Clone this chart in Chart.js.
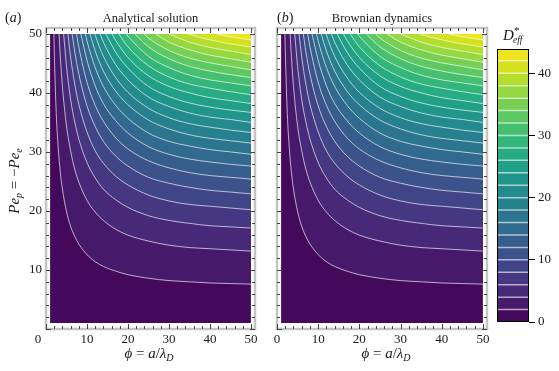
<!DOCTYPE html>
<html>
<head>
<meta charset="utf-8">
<script src="https://cdn.jsdelivr.net/npm/chart.js@4.4.0/dist/chart.umd.min.js"></script>
<style>
  body { margin: 0; background: #fff; }
  #wrap { position: relative; width: 559px; height: 371px; }
  canvas { position: absolute; top: 0; }
</style>
</head>
<body>
<div id="wrap">
  <canvas id="panelA" width="270" height="371" style="left:0"></canvas>
  <canvas id="panelB" width="235" height="371" style="left:262px"></canvas>
  <canvas id="colorbar" width="69" height="371" style="left:490px"></canvas>
</div>
<script>
// tick values
var phiTicks = [0, 10, 20, 30, 40, 50];
var peTicks = [0, 10, 20, 30, 40, 50];
var barTicks = [0, 10, 20, 30, 40];

// contour levels of D*_eff and top of the colour bar
var levels = [2, 4, 6, 8, 10, 12, 14, 16, 18, 20, 22, 24, 26, 28, 30, 32, 34, 36, 38, 40, 42];
var dMax = 43.9;

// one colour per band: 0-2, 2-4, ... 42-44
var bandColors = ['#45095c', '#47196b', '#482878', '#453781', '#404587', '#3b528b',
                  '#365e8d', '#306a8e', '#2b758e', '#27808e', '#238b8d', '#20968b',
                  '#1fa087', '#26ab82', '#33b67a', '#46c06f', '#5ec962', '#78d052',
                  '#95d840', '#b4dd2c', '#d3e21d', '#efe51f'];

// contour lines, [phi, Pe]
var c2  = [[1.92,50],[2,47.4],[2.5,36.5],[3,30.5],[3.5,26.5],[4,23.7],[5,19.9],[6,17.4],[7,15.7],[8,14.4],[10,12.6],[12,11.4],[14,10.6],[17,9.8],[20,9.2],[25,8.6],[30,8.2],[35,8.0],[40,7.8],[45,7.7],[50,7.6]];
var c4  = [[3.18,50],[3.5,46.0],[4,41.1],[5,34.4],[6,30.2],[7,27.1],[8,24.9],[10,21.8],[12,19.8],[14,18.4],[17,16.9],[20,15.9],[25,14.9],[30,14.2],[35,13.8],[40,13.6],[45,13.4],[50,13.2]];
var c6  = [[4.3,50],[5,44.5],[6,38.9],[7,35.1],[8,32.2],[10,28.2],[12,25.6],[14,23.7],[17,21.9],[20,20.6],[25,19.2],[30,18.4],[35,17.9],[40,17.5],[45,17.3],[50,17.1]];
var c8  = [[5.35,50],[6,46.1],[7,41.5],[8,38.1],[10,33.4],[12,30.2],[14,28.1],[17,25.9],[20,24.4],[25,22.7],[30,21.7],[35,21.1],[40,20.8],[45,20.5],[50,20.2]];
var c10 = [[6.39,50],[7,47.0],[8,43.2],[10,37.8],[12,34.3],[14,31.8],[17,29.3],[20,27.6],[25,25.7],[30,24.7],[35,24.0],[40,23.5],[45,23.2],[50,22.9]];
var c12 = [[7.44,50],[8,47.8],[10,41.8],[12,37.9],[14,35.2],[17,32.4],[20,30.5],[25,28.5],[30,27.3],[35,26.5],[40,26.0],[45,25.7],[50,25.4]];
var c14 = [[8.51,50],[10,45.5],[12,41.2],[14,38.2],[17,35.3],[20,33.2],[25,30.9],[30,29.6],[35,28.8],[40,28.3],[45,27.9],[50,27.6]];
var c16 = [[9.6,50],[10,48.8],[12,44.3],[14,41.1],[17,37.9],[20,35.7],[25,33.2],[30,31.8],[35,31.0],[40,30.4],[45,30.0],[50,29.6]];
var c18 = [[10.74,50],[12,47.1],[14,43.7],[17,40.3],[20,38.0],[25,35.4],[30,33.9],[35,32.9],[40,32.3],[45,31.9],[50,31.5]];
var c20 = [[11.91,50],[12,49.8],[14,46.2],[17,42.6],[20,40.1],[25,37.4],[30,35.8],[35,34.8],[40,34.2],[45,33.7],[50,33.3]];
var c22 = [[13.2,50],[14,48.6],[17,44.8],[20,42.2],[25,39.3],[30,37.7],[35,36.6],[40,35.9],[45,35.5],[50,35.0]];
var c24 = [[14.59,50],[17,46.9],[20,44.2],[25,41.1],[30,39.4],[35,38.3],[40,37.6],[45,37.1],[50,36.7]];
var c26 = [[16.11,50],[17,48.9],[20,46.0],[25,42.9],[30,41.1],[35,40.0],[40,39.2],[45,38.7],[50,38.2]];
var c28 = [[17.75,50],[20,47.8],[25,44.6],[30,42.7],[35,41.5],[40,40.8],[45,40.2],[50,39.7]];
var c30 = [[19.55,50],[20,49.6],[25,46.2],[30,44.3],[35,43.0],[40,42.2],[45,41.7],[50,41.2]];
var c32 = [[21.67,50],[25,47.8],[30,45.8],[35,44.5],[40,43.7],[45,43.1],[50,42.6]];
var c34 = [[23.9,50],[25,49.3],[30,47.2],[35,45.9],[40,45.1],[45,44.5],[50,43.9]];
var c36 = [[26.67,50],[30,48.6],[35,47.3],[40,46.4],[45,45.8],[50,45.2]];
var c38 = [[29.96,50],[35,48.6],[40,47.7],[45,47.1],[50,46.5]];
var c40 = [[34.63,50],[35,49.9],[40,49.0],[45,48.3],[50,47.8]];
var c42 = [[41.56,50],[45,49.5],[50,49.0]];

var analytical = [c2, c4, c6, c8, c10, c12, c14, c16, c18, c20, c22, c24, c26, c28, c30, c32, c34, c36, c38, c40, c42];
var brownian = analytical;

var serif = "'Liberation Serif', 'DejaVu Serif', serif";
function up(s) { return s + 'px ' + serif; }
function it(s) { return 'italic ' + s + 'px ' + serif; }

function drawRuns(ctx, runs, x, y, align) {
  var w = 0;
  runs.forEach(function (r) { ctx.font = r.f; r.w = ctx.measureText(r.t).width; w += r.w; });
  var cx = align === 'center' ? x - w / 2 : x;
  runs.forEach(function (r) { ctx.font = r.f; ctx.fillText(r.t, cx, y + (r.dy || 0)); cx += r.w; });
}

function contourDatasets(lines) {
  var sets = [{
    data: [{x: 1, y: 1}, {x: 50, y: 1}],
    fill: {value: 50},
    backgroundColor: bandColors[0],
    borderWidth: 0,
    order: 100
  }];
  lines.forEach(function (pts, i) {
    sets.push({
      data: pts.map(function (p) { return {x: p[0], y: p[1]}; }),
      fill: {value: 50},
      backgroundColor: bandColors[i + 1],
      borderColor: 'rgba(255,255,255,0.65)',
      borderWidth: 1,
      cubicInterpolationMode: 'monotone',
      order: 99 - i
    });
  });
  return sets;
}

function framePlugin(drawTexts) {
  return {
    id: 'frame',
    afterDraw: function (chart) {
      var ctx = chart.ctx, a = chart.chartArea, x = chart.scales.x, y = chart.scales.y;
      ctx.save();
      ctx.strokeStyle = '#c4c4c4';
      ctx.lineWidth = 2.5;
      ctx.strokeRect(a.left, a.top, a.right - a.left, a.bottom - a.top);
      ctx.strokeStyle = '#444';
      ctx.lineWidth = 1;
      ctx.beginPath();
      for (var v = 0; v <= 50; v += 2) {
        var len = v % 10 === 0 ? 5 : 3;
        var px = Math.round(x.getPixelForValue(v)) + 0.5;
        ctx.moveTo(px, a.bottom); ctx.lineTo(px, a.bottom - len);
        ctx.moveTo(px, a.top); ctx.lineTo(px, a.top + len);
        var py = Math.round(y.getPixelForValue(v)) + 0.5;
        ctx.moveTo(a.left, py); ctx.lineTo(a.left + len, py);
        ctx.moveTo(a.right, py); ctx.lineTo(a.right - len, py);
      }
      ctx.stroke();
      ctx.fillStyle = '#1a1a1a';
      ctx.textBaseline = 'alphabetic';
      drawTexts(ctx, chart);
      ctx.restore();
    }
  };
}

function panel(id, lines, cfg) {
  return new Chart(document.getElementById(id), {
    type: 'line',
    data: {datasets: contourDatasets(lines)},
    options: {
      responsive: false,
      animation: false,
      events: [],
      layout: {padding: {left: 0, right: cfg.padRight, top: 28, bottom: 0}},
      elements: {point: {radius: 0}},
      plugins: {legend: {display: false}, tooltip: {enabled: false}},
      scales: {
        x: {
          type: 'linear', min: 0, max: 51,
          afterBuildTicks: function (s) { s.ticks = phiTicks.map(function (v) { return {value: v}; }); },
          afterFit: function (s) { s.height = 42; },
          grid: {display: false, drawTicks: false},
          border: {display: false},
          ticks: {
            font: {family: serif, size: 13}, color: '#1a1a1a', padding: 3, maxRotation: 0,
            callback: function (v) { return (cfg.hideZero && v === 0) ? '' : v; }
          }
        },
        y: {
          type: 'linear', min: 0, max: 51,
          afterBuildTicks: function (s) { s.ticks = peTicks.map(function (v) { return {value: v}; }); },
          afterFit: function (s) { s.width = cfg.yWidth; },
          grid: {display: false, drawTicks: false},
          border: {display: false},
          ticks: {
            display: cfg.yLabels, font: {family: serif, size: 13}, color: '#1a1a1a', padding: 4,
            callback: function (v) { return v === 0 ? '' : v; }
          }
        }
      }
    },
    plugins: [framePlugin(cfg.texts)]
  });
}

panel('panelA', analytical, {
  padRight: 15, yWidth: 46, hideZero: true, yLabels: true,
  texts: function (ctx, chart) {
    drawRuns(ctx, [{t: '(', f: up(14)}, {t: 'a', f: it(14)}, {t: ')', f: up(14)}], 5, 22, 'left');
    ctx.font = up(12.5);
    ctx.textAlign = 'center';
    ctx.fillText('Analytical solution', 150.5, 21.5);
    ctx.font = up(13);
    ctx.fillText('0', 38, 343);
    ctx.textAlign = 'left';
    drawRuns(ctx, [{t: 'ϕ', f: it(15)}, {t: ' = ', f: up(15)}, {t: 'a', f: it(15)},
                   {t: '/', f: up(15)}, {t: 'λ', f: it(15)}, {t: 'D', f: it(10), dy: 3}], 149, 358, 'center');
    ctx.save();
    ctx.translate(19, 181);
    ctx.rotate(-Math.PI / 2);
    drawRuns(ctx, [{t: 'Pe', f: it(15)}, {t: 'p', f: it(10), dy: 3}, {t: ' = −', f: up(15)},
                   {t: 'Pe', f: it(15)}, {t: 'e', f: it(10), dy: 3}], 0, 0, 'center');
    ctx.restore();
  }
});

panel('panelB', brownian, {
  padRight: 10, yWidth: 15, hideZero: false, yLabels: false,
  texts: function (ctx, chart) {
    drawRuns(ctx, [{t: '(', f: up(14)}, {t: 'b', f: it(14)}, {t: ')', f: up(14)}], 15, 22, 'left');
    ctx.font = up(12.5);
    ctx.textAlign = 'center';
    ctx.fillText('Brownian dynamics', 120, 21.5);
    ctx.textAlign = 'left';
    drawRuns(ctx, [{t: 'ϕ', f: it(15)}, {t: ' = ', f: up(15)}, {t: 'a', f: it(15)},
                   {t: '/', f: up(15)}, {t: 'λ', f: it(15)}, {t: 'D', f: it(10), dy: 3}], 124, 358, 'center');
  }
});

// colour bar
var bandLow = [0].concat(levels);
var bandHigh = levels.concat([dMax]);

new Chart(document.getElementById('colorbar'), {
  type: 'bar',
  data: {
    labels: [''],
    datasets: bandColors.map(function (c, i) {
      return {data: [bandHigh[i] - bandLow[i]], backgroundColor: c, borderWidth: 0,
              barPercentage: 1, categoryPercentage: 1};
    })
  },
  options: {
    responsive: false,
    animation: false,
    events: [],
    layout: {padding: {left: 7, right: 0, top: 49, bottom: 49}},
    plugins: {legend: {display: false}, tooltip: {enabled: false}},
    scales: {
      x: {stacked: true, display: false},
      y: {
        stacked: true, position: 'right', min: 0, max: dMax,
        afterBuildTicks: function (s) { s.ticks = barTicks.map(function (v) { return {value: v}; }); },
        afterFit: function (s) { s.width = 30; },
        grid: {drawOnChartArea: false, drawTicks: true, tickLength: 6, color: '#000', lineWidth: 1},
        border: {display: false},
        ticks: {font: {family: serif, size: 13}, color: '#1a1a1a', padding: 3}
      }
    }
  },
  plugins: [{
    id: 'barFrame',
    afterDraw: function (chart) {
      var ctx = chart.ctx, a = chart.chartArea, y = chart.scales.y;
      ctx.save();
      ctx.strokeStyle = 'rgba(255,255,255,0.62)';
      ctx.lineWidth = 1.5;
      ctx.beginPath();
      levels.forEach(function (l) {
        var py = y.getPixelForValue(l);
        ctx.moveTo(a.left, py); ctx.lineTo(a.right, py);
      });
      ctx.stroke();
      ctx.strokeStyle = '#000';
      ctx.lineWidth = 1;
      ctx.strokeRect(a.left + 0.5, a.top + 0.5, a.right - a.left - 1, a.bottom - a.top - 1);
      ctx.fillStyle = '#1a1a1a';
      drawRuns(ctx, [{t: 'D', f: it(15)}], 13, 40, 'left');
      ctx.font = up(11);
      ctx.fillText('*', 24, 34);
      ctx.font = it(9.5);
      ctx.fillText('eff', 23, 43);
      ctx.restore();
    }
  }]
});
</script>
</body>
</html>
